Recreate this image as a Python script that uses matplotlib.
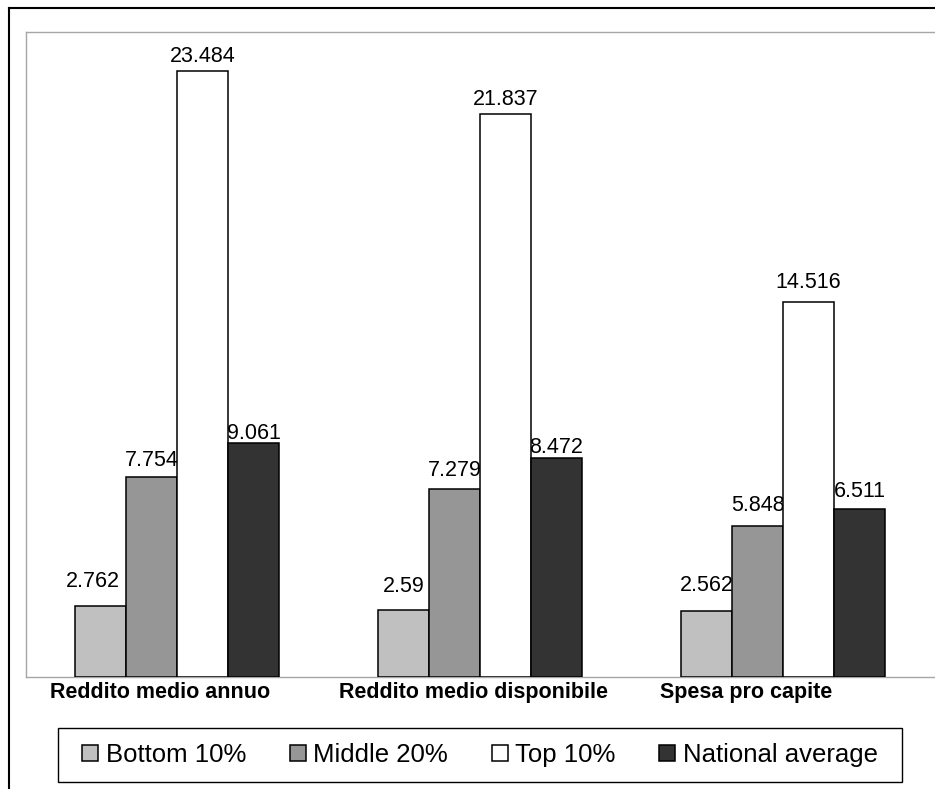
import matplotlib
matplotlib.use("Agg")
import matplotlib.pyplot as plt
from matplotlib.lines import Line2D
from matplotlib.patches import Rectangle, Patch
import numpy as np

plt.rcParams['font.family'] = ['Liberation Sans', 'DejaVu Sans']

# --- data -------------------------------------------------------------
categories = ["Reddito medio annuo", "Reddito medio disponibile", "Spesa pro capite"]
series_names = ["Bottom 10%", "Middle 20%", "Top 10%", "National average"]
bottom_10 = [2.762, 2.59, 2.562]
middle_20 = [7.754, 7.279, 5.848]
top_10 = [23.484, 21.837, 14.516]
national_avg = [9.061, 8.472, 6.511]
value_labels = [
    ["2.762", "2.59", "2.562"],
    ["7.754", "7.279", "5.848"],
    ["23.484", "21.837", "14.516"],
    ["9.061", "8.472", "6.511"],
]

# --- layout / style ---------------------------------------------------
colors = ["#C0C0C0", "#969696", "#FFFFFF", "#333333"]
W, H = 935, 789
label_shift_px = [-17, -6.5, -37]   # horizontal nudges of the category labels
# distance (px) from bar top to the centre of its value label, per series
label_gap_px = [
    [24, 24, 25],
    [16, 19, 21],
    [15, 14.5, 19.5],
    [10, 10.5, 18],
]
label_dx_px = [
    [-8, 0, 0],
    [0, 0, 0],
    [0, 0, 0],
    [0, 0, 0],
]
VALUE_FS = 15.5

fig = plt.figure(figsize=(W / 100, H / 100), dpi=100)
ax_left, ax_right, ax_top, ax_bottom = 25.5, 934.5, 32, 677
ax = fig.add_axes([ax_left / W, 1 - ax_bottom / H,
                   (ax_right - ax_left) / W, (ax_bottom - ax_top) / H])

series = [bottom_10, middle_20, top_10, national_avg]
x = np.arange(len(categories))
bw = 51 / 303
for k, (vals, col) in enumerate(zip(series, colors)):
    pos = x + (k - 1.5) * bw
    ax.bar(pos, vals, width=bw, color=col, edgecolor="black", linewidth=1.1,
           zorder=3)
    for j, (xi, v, txt) in enumerate(zip(pos, vals, value_labels[k])):
        ax.annotate(txt, xy=(xi, v),
                    xytext=(label_dx_px[k][j] * 0.72, label_gap_px[k][j] * 0.72),
                    textcoords="offset points",
                    ha="center", va="center", fontsize=VALUE_FS, color="black")

ax.set_xlim(-0.5, 2.5)
ax.set_ylim(0, 25)
ax.set_xticks([])
ax.set_yticks([])
for side in ["left", "top", "bottom"]:
    ax.spines[side].set_color("#A6A6A6")
    ax.spines[side].set_linewidth(1.0)
ax.spines["right"].set_visible(False)

# category labels under the groups
for xi, name, dx in zip(x, categories, label_shift_px):
    ax.annotate(name, xy=(xi, 0), xycoords=("data", "axes fraction"),
                xytext=(dx * 0.72, -21 * 0.72), textcoords="offset points",
                ha="center", va="baseline", fontsize=15.5, fontweight="bold",
                color="black")

# legend with its own box
handles = [Patch(facecolor=c, edgecolor="black", linewidth=1.1) for c in colors]
leg = fig.legend(handles, series_names, loc="center",
                 bbox_to_anchor=(480 / W, 1 - 755 / H), ncol=4, frameon=False,
                 fontsize=18.5, handlelength=0.62, handleheight=0.62,
                 handletextpad=0.3, columnspacing=1.7, borderpad=0)
fig.add_artist(Rectangle((58 / W, 1 - 782 / H), (902 - 58) / W, (782 - 728) / H,
                         transform=fig.transFigure, facecolor="none",
                         edgecolor="black", linewidth=1.0))

# outer chart frame
fig.add_artist(Line2D([9 / W, 9 / W], [1 - 8 / H, 0], transform=fig.transFigure,
                      color="black", linewidth=1.5))
fig.add_artist(Line2D([9 / W, 1], [1 - 8 / H, 1 - 8 / H], transform=fig.transFigure,
                      color="black", linewidth=1.5))

fig.savefig("out.png", dpi=100)
